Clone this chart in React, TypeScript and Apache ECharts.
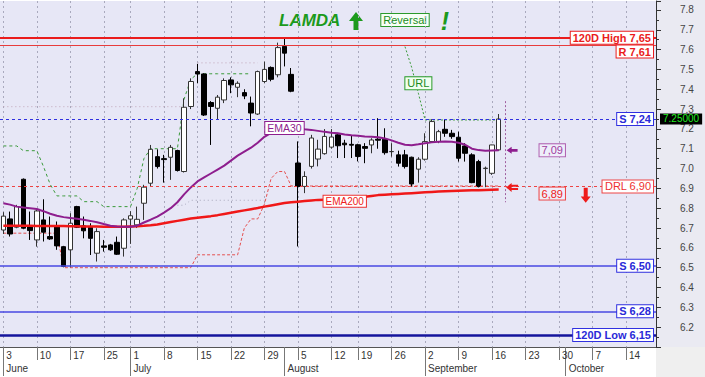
import React, { useEffect, useRef } from "react";
import * as echarts from "echarts";

const FONT = '"Liberation Sans", Arial, sans-serif';

// ---- calendar ----
const FIRST_DAY = "2013-06-03";
const LAST_DAY = "2013-10-18";
const HOLIDAYS = ["2013-06-24", "2013-08-15"];
const MONTH_NAMES = ["January", "February", "March", "April", "May", "June", "July", "August", "September", "October", "November", "December"];

// ---- daily prices (index 0 = 3 June) ----
const opens = [6.69, 6.746, 6.704, 6.946, 6.711, 6.64, 6.741, 6.657, 6.711, 6.606, 6.59, 6.808, 6.711, 6.704, 6.573, 6.61, 6.615, 6.628, 6.598, 6.745, 6.716, 6.825, 6.926, 7.06, 7.05, 7.057, 7.091, 6.985, 7.313, 7.489, 7.477, 7.333, 7.304, 7.346, 7.447, 7.41, 7.383, 7.33, 7.275, 7.439, 7.51, 7.473, 7.616, 7.475, 7.028, 6.91, 7.011, 7.048, 7.075, 7.108, 7.17, 7.128, 7.122, 7.12, 7.111, 7.119, 7.148, 7.148, 7.085, 7.069, 7.069, 7.057, 6.997, 7.047, 7.136, 7.136, 7.198, 7.178, 7.158, 7.114, 7.069, 7.035, 7.0, 6.976, 7.094];
const highs = [6.78, 6.783, 6.817, 6.95, 6.783, 6.8, 6.845, 6.758, 6.733, 6.61, 6.775, 6.812, 6.758, 6.724, 6.699, 6.64, 6.62, 6.657, 6.749, 6.785, 6.808, 6.918, 7.119, 7.097, 7.069, 7.119, 7.095, 7.354, 7.455, 7.528, 7.48, 7.34, 7.371, 7.455, 7.46, 7.44, 7.4, 7.363, 7.494, 7.539, 7.515, 7.635, 7.662, 7.507, 7.137, 6.986, 7.17, 7.145, 7.199, 7.199, 7.18, 7.145, 7.165, 7.125, 7.128, 7.153, 7.254, 7.203, 7.128, 7.09, 7.094, 7.06, 7.057, 7.178, 7.249, 7.195, 7.245, 7.195, 7.186, 7.128, 7.077, 7.044, 7.01, 7.12, 7.275];
const lows = [6.67, 6.657, 6.699, 6.694, 6.64, 6.606, 6.632, 6.64, 6.59, 6.502, 6.502, 6.7, 6.648, 6.564, 6.531, 6.581, 6.585, 6.564, 6.556, 6.62, 6.7, 6.741, 6.909, 7.0, 6.929, 6.943, 6.985, 6.98, 7.3, 7.43, 7.265, 7.119, 7.245, 7.33, 7.38, 7.36, 7.35, 7.213, 7.27, 7.43, 7.44, 7.46, 7.515, 7.385, 6.607, 6.876, 7.0, 7.011, 7.07, 7.1, 7.053, 7.053, 7.053, 7.036, 7.027, 7.077, 7.1, 7.07, 7.06, 7.01, 7.0, 6.909, 6.929, 7.04, 7.13, 7.128, 7.16, 7.15, 7.035, 7.035, 6.926, 6.905, 6.906, 6.968, 7.09];
const closes = [6.76, 6.67, 6.808, 6.699, 6.687, 6.786, 6.679, 6.645, 6.61, 6.506, 6.724, 6.704, 6.686, 6.648, 6.682, 6.603, 6.59, 6.568, 6.741, 6.762, 6.744, 6.906, 7.097, 7.01, 7.045, 7.107, 6.99, 7.309, 7.439, 7.477, 7.27, 7.313, 7.36, 7.444, 7.422, 7.43, 7.366, 7.28, 7.489, 7.5, 7.45, 7.61, 7.582, 7.39, 6.91, 6.96, 7.154, 7.098, 7.162, 7.159, 7.115, 7.12, 7.118, 7.061, 7.102, 7.144, 7.143, 7.08, 7.086, 7.027, 7.01, 6.922, 7.047, 7.136, 7.237, 7.186, 7.178, 7.161, 7.052, 7.077, 6.929, 6.909, 7.002, 7.119, 7.25];

// ---- indicators ----
const ema30 = [6.825, 6.818, 6.808, 6.803, 6.8, 6.796, 6.785, 6.772, 6.762, 6.755, 6.751, 6.747, 6.742, 6.736, 6.729, 6.72, 6.712, 6.708, 6.707, 6.707, 6.712, 6.728, 6.742, 6.758, 6.778, 6.8, 6.83, 6.87, 6.905, 6.935, 6.955, 6.975, 6.995, 7.015, 7.04, 7.065, 7.085, 7.105, 7.13, 7.16, 7.18, 7.2, 7.212, 7.22, 7.205, 7.198, 7.195, 7.19, 7.185, 7.181, 7.178, 7.172, 7.168, 7.165, 7.162, 7.16, 7.158, 7.152, 7.142, 7.13, 7.12, 7.118, 7.122, 7.128, 7.132, 7.135, 7.136, 7.135, 7.13, 7.12, 7.1, 7.093, 7.09, 7.091, 7.092];
const ema200 = [6.712, 6.712, 6.711, 6.711, 6.711, 6.71, 6.71, 6.71, 6.71, 6.71, 6.709, 6.709, 6.708, 6.708, 6.708, 6.707, 6.707, 6.707, 6.707, 6.708, 6.709, 6.711, 6.714, 6.718, 6.724, 6.73, 6.736, 6.742, 6.748, 6.752, 6.756, 6.76, 6.765, 6.771, 6.777, 6.783, 6.789, 6.795, 6.801, 6.808, 6.814, 6.82, 6.826, 6.83, 6.833, 6.836, 6.839, 6.842, 6.843, 6.844, 6.845, 6.847, 6.85, 6.854, 6.858, 6.862, 6.866, 6.868, 6.87, 6.872, 6.874, 6.876, 6.878, 6.88, 6.882, 6.884, 6.886, 6.887, 6.888, 6.889, 6.89, 6.891, 6.892, 6.893, 6.894];
const greenStop = [7.114, 7.114, 7.114, 7.09, 7.09, 7.09, 7.01, 6.92, 6.862, 6.862, 6.862, 6.862, 6.833, 6.833, 6.833, 6.808, 6.808, 6.808, 6.808, 6.808, 6.9, 7.05, 7.1, 7.1, 7.1, 7.1, 7.1, 7.35, 7.45, 7.478, 7.478, 7.478, 7.478, 7.478, 7.478, 7.478, 7.478, 7.478];
const redStop = [6.674, 6.674, 6.674, 6.674, 6.674, 6.674, 6.674, 6.674, 6.674, 6.5, 6.5, 6.5, 6.5, 6.5, 6.5, 6.5, 6.5, 6.5, 6.5, 6.5, 6.5, 6.5, 6.5, 6.5, 6.5, 6.5, 6.5, 6.5, 6.5, 6.565, 6.565, 6.565, 6.565, 6.565, 6.565, 6.565, 6.7, 6.746, 6.746, 6.82, 6.95, 6.985, 6.985, 6.912, 6.912, 6.912, 6.912, 6.912, 6.912, 6.912, 6.912, 6.912, 6.912, 6.912, 6.912, 6.912, 6.912, 6.912, 6.912, 6.912, 6.912, 6.912, 6.912, 6.912, 6.912, 6.912, 6.912, 6.912, 6.912, 6.912, 6.912, 6.912, 6.912, 6.912, 6.912];
const URL_START = 60;
const urlLevel = [7.615, 7.51, 7.38, 7.245, 7.245, 7.245, 7.245, 7.245, 7.245, 7.245, 7.245, 7.245, 7.245, 7.245, 7.245];
const upperDotSegments = [
  { start: 0, values: [7.312, 7.312, 7.312, 7.312, 7.312, 7.312, 7.312, 7.312, 7.312, 7.312, 7.312, 7.312, 7.312, 7.312, 7.312, 7.312, 7.312, 7.312, 7.312, 7.312, 7.312, 7.312, 7.312, 7.312, 7.312, 7.312, 7.312, 7.312] },
  { start: 29, values: [7.533, 7.533, 7.533, 7.533, 7.533, 7.533, 7.533, 7.533, 7.533, 7.533] },
];
const lowerDotSegments = [
  { start: 26, values: [6.815, 6.815, 6.84, 6.84, 6.84, 6.84, 6.84, 6.84, 6.84, 6.84, 6.84, 6.84, 6.84, 6.84] },
];

// ---- horizontal levels ----
const levelNames = ["120D High 7,65", "R 7,61", "S 7,24", "DRL 6,90", "S 6,50", "S 6,28", "120D Low 6,15"];
const levelPrices = [7.662, 7.622, 7.248, 6.905, 6.506, 6.284, 6.156];

// ---- annotation anchors (day index, price) ----
const EMA30_TAG = { day: 42, price: 7.205 };
const EMA200_TAG = { day: 51, price: 6.835 };
const URL_TAG = { day: 62, price: 7.43 };
const TODAY_MARK = { day: 75, from: 7.34, to: 6.83 };
const ARROW_DAY = 76;
const VALUE_BOX_DAY = 82;
const SIGNAL_ARROW = { day: 87, price: 6.865 };

function buildDays(): string[] {
  const out: string[] = [];
  const d = new Date(FIRST_DAY + "T00:00:00Z");
  const end = new Date(LAST_DAY + "T00:00:00Z");
  while (d.getTime() <= end.getTime()) {
    const wd = d.getUTCDay();
    const s = d.toISOString().slice(0, 10);
    if (wd !== 0 && wd !== 6 && HOLIDAYS.indexOf(s) < 0) out.push(s);
    d.setUTCDate(d.getUTCDate() + 1);
  }
  return out;
}
const categories = buildDays();
const weekStart = categories.map((c, i) => {
  if (i === 0) return true;
  const a = new Date(categories[i - 1] + "T00:00:00Z").getUTCDay();
  const b = new Date(c + "T00:00:00Z").getUTCDay();
  return b <= a;
});
const monthStart = categories.map((c, i) => i === 0 || c.slice(5, 7) !== categories[i - 1].slice(5, 7));

function segments(segs: { start: number; values: number[] }[], len: number) {
  const arr: (number | null)[] = new Array(len).fill(null);
  segs.forEach((s) => s.values.forEach((v, k) => (arr[s.start + k] = v)));
  return arr;
}
const comma = (v: number) => v.toFixed(2).replace(".", ",");

const RED = "#ea1c1c";
const BLUE = "#2a2ad8";
const PURPLE = "#8e1e8e";
const GREEN = "#1c9a1c";
const ARROW_LEFT = "path://M0,5L6,0L6,3L13,3L13,7L6,7L6,10Z";
const ARROW_LEFT_DOUBLE = "path://M0,5L6,0L6,2.2L13,2.2L13,4.2L6,4.2L6,5.8L13,5.8L13,7.8L6,7.8L6,10Z";
const ARROW_DOWN = "path://M3,0L7,0L7,8L10,8L5,14L0,8L3,8Z";

const levelStyles = [
  { line: { color: RED, width: 2, type: "solid" }, text: RED, border: RED, weight: "bold", valign: "middle" },
  { line: { color: "#e83c3c", width: 1, type: "solid" }, text: RED, border: RED, weight: "bold", valign: "top" },
  { line: { color: "#3030e0", width: 1, type: [3, 3] }, text: BLUE, border: "#3030e0", weight: "bold", valign: "middle" },
  { line: { color: "#ee4444", width: 1, type: [3, 3] }, text: "#ee3030", border: "#ee4444", weight: "normal", valign: "middle" },
  { line: { color: "#4848e2", width: 1.5, type: "solid" }, text: BLUE, border: "#3030e0", weight: "bold", valign: "middle" },
  { line: { color: "#4848e2", width: 1.5, type: "solid" }, text: BLUE, border: "#3030e0", weight: "bold", valign: "middle" },
  { line: { color: "#14149c", width: 2.5, type: "solid" }, text: BLUE, border: "#3030e0", weight: "bold", valign: "middle" },
];

const tagLabel = (text: string, color: string, border: string, bg: string, size = 10.5) => ({
  show: true,
  formatter: text,
  color,
  backgroundColor: bg,
  borderColor: border,
  borderWidth: 1,
  padding: [1, 2, 0, 2],
  fontSize: size,
  fontFamily: FONT,
});
const hidden = { symbol: "rect", symbolSize: 1, itemStyle: { color: "rgba(0,0,0,0)" } };

function buildOption() {
  const n = closes.length;
  const lastClose = closes[n - 1];
  const ema30Last = ema30[ema30.length - 1];
  const ema200Last = ema200[ema200.length - 1];
  const urlData = urlLevel.map((v, k) => [categories[URL_START + k], v]);

  return {
    animation: false,
    backgroundColor: "#ffffff",
    grid: { left: 0, right: 49, top: 1, bottom: 30, show: true, backgroundColor: "#e7e7f6", borderWidth: 0 },
    graphic: [
      { type: "rect", z: -10, silent: true, shape: { x: 656, y: 0, width: 49, height: 347 }, style: { fill: "#eaeaf2" } },
      { type: "rect", z: -10, silent: true, shape: { x: 656, y: 347, width: 49, height: 30 }, style: { fill: "#efefef" } },
      { type: "text", x: 279, y: 20, style: { text: "LAMDA", font: "italic bold 17px " + FONT, fill: GREEN, verticalAlign: "middle" } },
      { type: "polygon", shape: { points: [[349, 21], [356, 12], [363, 21], [358.5, 21], [358.5, 30], [353.5, 30], [353.5, 21]] }, style: { fill: GREEN } },
      { type: "text", x: 405, y: 20, style: { text: "Reversal", font: "11px " + FONT, fill: "#1c8c1c", align: "center", verticalAlign: "middle", backgroundColor: "#f6fff6", borderColor: "#2a9a2a", borderWidth: 1, padding: [1, 2, 0, 2] } },
      { type: "text", x: 445, y: 21, style: { text: "!", font: "italic bold 25px " + FONT, fill: GREEN, align: "center", verticalAlign: "middle" } },
    ],
    xAxis: [
      {
        type: "category",
        data: categories,
        boundaryGap: true,
        position: "bottom",
        axisLine: { show: true, lineStyle: { color: "#555", width: 1 } },
        axisTick: { show: true, alignWithLabel: true, length: 13, interval: (i: number) => weekStart[i] || monthStart[i], lineStyle: { color: "#777" } },
        axisLabel: {
          interval: (i: number) => weekStart[i],
          formatter: (v: string) => String(parseInt(v.slice(8), 10)),
          align: "left",
          padding: [0, 0, 0, 3],
          margin: 3,
          fontSize: 10,
          color: "#333",
          fontFamily: FONT,
        },
        splitLine: { show: true, alignWithLabel: true, interval: (i: number) => weekStart[i], lineStyle: { color: "#a9a9bd", width: 1, type: [2, 3] } },
      },
      {
        type: "category",
        data: categories,
        boundaryGap: true,
        position: "bottom",
        axisLine: { show: false },
        axisTick: { show: true, alignWithLabel: true, length: 29, interval: (i: number) => monthStart[i], lineStyle: { color: "#777" } },
        axisLabel: {
          interval: (i: number) => monthStart[i],
          formatter: (v: string) => MONTH_NAMES[parseInt(v.slice(5, 7), 10) - 1],
          align: "left",
          padding: [0, 0, 0, 3],
          margin: 16,
          fontSize: 10,
          color: "#333",
          fontFamily: FONT,
        },
        splitLine: { show: false },
      },
    ],
    yAxis: {
      type: "value",
      position: "right",
      min: 6.1,
      max: 7.845,
      interval: 0.1,
      scale: true,
      axisLine: { show: true, lineStyle: { color: "#333" } },
      axisTick: { show: true, length: 5, lineStyle: { color: "#333" } },
      minorTick: { show: true, splitNumber: 2, length: 3, lineStyle: { color: "#333" } },
      splitLine: { show: false },
      axisLabel: {
        margin: 24,
        align: "left",
        fontSize: 10,
        color: "#444",
        fontFamily: FONT,
        showMinLabel: false,
        showMaxLabel: false,
        formatter: (v: number) => v.toFixed(1),
      },
    },
    series: [
      {
        name: "upper dots",
        type: "line",
        data: segments(upperDotSegments, n),
        symbol: "none",
        connectNulls: false,
        lineStyle: { color: "#c0a4b8", width: 1, type: [1, 3] },
        z: 1,
      },
      {
        name: "lower dots",
        type: "line",
        data: segments(lowerDotSegments, n),
        symbol: "none",
        connectNulls: false,
        lineStyle: { color: "#a8a8bc", width: 1, type: [1, 3] },
        z: 1,
      },
      {
        name: "green stop",
        type: "line",
        data: greenStop,
        symbol: "none",
        lineStyle: { color: "#3a9a3a", width: 1, type: [3, 3] },
        z: 2,
      },
      {
        name: "URL",
        type: "line",
        data: urlData,
        symbol: "none",
        lineStyle: { color: "#3a9a3a", width: 1, type: [2, 2] },
        z: 2,
        markPoint: {
          silent: true,
          animation: false,
          data: [{ ...hidden, coord: [categories[URL_TAG.day], URL_TAG.price], label: tagLabel("URL", "#1c8c1c", "#2a9a2a", "#f0fff0", 11) }],
        },
      },
      {
        name: "red stop",
        type: "line",
        data: redStop,
        symbol: "none",
        lineStyle: { color: "#e45050", width: 1, type: [3, 2] },
        z: 2,
      },
      {
        name: "price",
        type: "candlestick",
        data: opens.map((o, i) => [o, closes[i], lows[i], highs[i]]),
        barWidth: 5,
        itemStyle: { color: "#ffffff", color0: "#000000", borderColor: "#333333", borderColor0: "#000000", borderWidth: 1 },
        z: 3,
      },
      {
        name: "EMA200",
        type: "line",
        data: ema200,
        symbol: "none",
        lineStyle: { color: "#f01818", width: 2.5 },
        z: 4,
        markPoint: {
          silent: true,
          animation: false,
          data: [
            { ...hidden, coord: [categories[EMA200_TAG.day], EMA200_TAG.price], label: tagLabel("EMA200", "#ee2020", "#ee3030", "#ffffff", 10) },
            { coord: [categories[ARROW_DAY], levelPrices[3]], symbol: ARROW_LEFT_DOUBLE, symbolSize: [12, 9], itemStyle: { color: "#ee1c1c" }, label: { show: false } },
            { ...hidden, coord: [categories[VALUE_BOX_DAY], ema200Last], label: { ...tagLabel(comma(ema200Last), "#ee2020", "#ee4040", "#eeeefa", 11), offset: [0, 4] } },
            { coord: [categories[SIGNAL_ARROW.day], SIGNAL_ARROW.price], symbol: ARROW_DOWN, symbolSize: [10, 15], itemStyle: { color: "#ee1c1c" }, label: { show: false } },
          ],
        },
      },
      {
        name: "EMA30",
        type: "line",
        data: ema30,
        symbol: "none",
        lineStyle: { color: PURPLE, width: 2 },
        z: 4,
        markPoint: {
          silent: true,
          animation: false,
          data: [
            { ...hidden, coord: [categories[EMA30_TAG.day], EMA30_TAG.price], label: tagLabel("EMA30", PURPLE, PURPLE, "#ffffff", 10.5) },
            { coord: [categories[ARROW_DAY], ema30Last], symbol: ARROW_LEFT, symbolSize: [11, 7], itemStyle: { color: PURPLE }, label: { show: false } },
            { ...hidden, coord: [categories[VALUE_BOX_DAY], ema30Last], label: tagLabel(comma(ema30Last), "#a03ca0", "#b060b0", "#eeeefa", 11) },
          ],
        },
        markLine: {
          silent: true,
          animation: false,
          symbol: ["none", "none"],
          label: { show: false },
          lineStyle: { color: "#a060a0", width: 1, type: [2, 2] },
          data: [[{ coord: [categories[TODAY_MARK.day], TODAY_MARK.from] }, { coord: [categories[TODAY_MARK.day], TODAY_MARK.to] }]],
        },
      },
      {
        name: "levels",
        type: "line",
        data: [],
        z: 6,
        markLine: {
          silent: true,
          animation: false,
          symbol: ["none", "none"],
          data: [
            ...levelPrices.map((p, i) => ({
              yAxis: p,
              lineStyle: levelStyles[i].line,
              label: {
                show: true,
                position: "end",
                align: "right",
                verticalAlign: levelStyles[i].valign,
                distance: -3,
                formatter: levelNames[i],
                color: levelStyles[i].text,
                fontWeight: levelStyles[i].weight,
                backgroundColor: "#ffffff",
                borderColor: levelStyles[i].border,
                borderWidth: 1,
                padding: [1, 2, 0, 2],
                fontSize: 11,
                fontFamily: FONT,
              },
            })),
            {
              yAxis: lastClose,
              lineStyle: { color: "rgba(0,0,0,0)", width: 1 },
              label: {
                show: true,
                position: "end",
                align: "left",
                distance: 4,
                formatter: lastClose.toFixed(5),
                color: "#22ee22",
                backgroundColor: "#000000",
                padding: [1, 3, 0, 3],
                fontSize: 10,
                fontFamily: FONT,
              },
            },
          ],
        },
      },
    ],
  };
}

export default function App() {
  const ref = useRef<HTMLDivElement>(null);
  useEffect(() => {
    if (!ref.current) return;
    const chart = echarts.init(ref.current, null, { renderer: "svg" });
    chart.setOption(buildOption() as any);
    return () => chart.dispose();
  }, []);
  return <div ref={ref} style={{ position: "fixed", left: 0, top: 0, width: 705, height: 377 }} />;
}
